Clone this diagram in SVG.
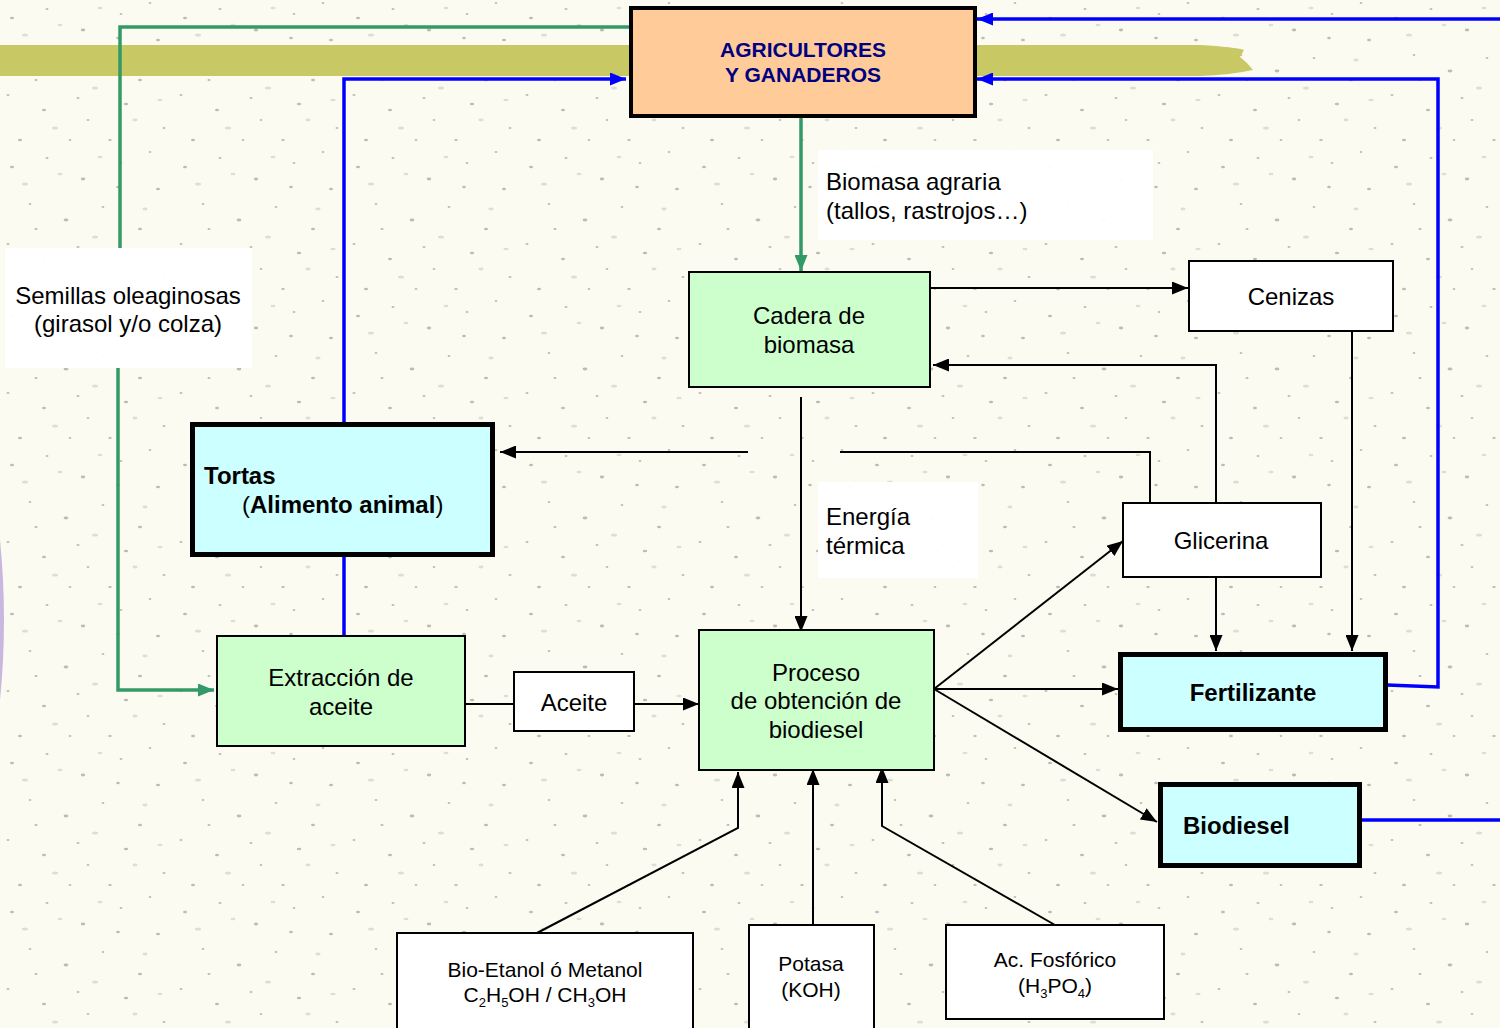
<svg xmlns="http://www.w3.org/2000/svg" width="1500" height="1028" viewBox="0 0 1500 1028">
<defs>
<style>
.t{font-family:"Liberation Sans",Arial,sans-serif;font-size:24px;fill:#000}
.s{font-family:"Liberation Sans",Arial,sans-serif;font-size:21px;fill:#000}
.b{font-weight:bold}
.box{stroke:#000;stroke-width:2}
.thick{stroke:#000;stroke-width:5}
.green{fill:#ccffcc}
.cyan{fill:#ccffff}
.white{fill:#fff}
.ln{fill:none;stroke:#000;stroke-width:2}
.bl{fill:none;stroke:#0000ff;stroke-width:3.5}
.gr{fill:none;stroke:#339966;stroke-width:3.5}
.lbl{fill:#fff;opacity:0.95}
</style>
<pattern id="spk" width="173" height="149" patternUnits="userSpaceOnUse">
<g fill="#6e6e66" opacity="0.45">
<ellipse cx="12" cy="18" rx="2" ry="1.3"/><ellipse cx="47" cy="9" rx="1.5" ry="1"/><ellipse cx="83" cy="30" rx="2.2" ry="1.4"/>
<ellipse cx="121" cy="14" rx="1.4" ry="1"/><ellipse cx="158" cy="40" rx="2" ry="1.2"/><ellipse cx="30" cy="55" rx="1.3" ry="1"/>
<ellipse cx="66" cy="71" rx="2.4" ry="1.4"/><ellipse cx="103" cy="58" rx="1.4" ry="1"/><ellipse cx="140" cy="80" rx="2" ry="1.2"/>
<ellipse cx="8" cy="95" rx="1.5" ry="1.1"/><ellipse cx="44" cy="110" rx="2" ry="1.3"/><ellipse cx="88" cy="120" rx="1.3" ry="1"/>
<ellipse cx="126" cy="104" rx="2.2" ry="1.3"/><ellipse cx="164" cy="128" rx="1.5" ry="1"/><ellipse cx="20" cy="140" rx="2" ry="1.2"/>
<ellipse cx="70" cy="140" rx="1.4" ry="1"/><ellipse cx="110" cy="140" rx="1.8" ry="1.1"/><ellipse cx="150" cy="3" rx="1.3" ry="1"/>
<ellipse cx="36" cy="80" rx="1.6" ry="1.1"/><ellipse cx="118" cy="38" rx="1.8" ry="1.2"/><ellipse cx="78" cy="98" rx="1.5" ry="1"/>
</g>
<g fill="#a8a8a0" opacity="0.35">
<ellipse cx="25" cy="35" rx="3" ry="1.5"/><ellipse cx="95" cy="88" rx="3" ry="1.5"/><ellipse cx="145" cy="60" rx="2.6" ry="1.4"/>
<ellipse cx="55" cy="128" rx="3" ry="1.5"/><ellipse cx="135" cy="120" rx="2.6" ry="1.4"/><ellipse cx="60" cy="25" rx="2.5" ry="1.3"/>
<ellipse cx="160" cy="100" rx="2.6" ry="1.3"/><ellipse cx="100" cy="8" rx="2.5" ry="1.3"/>
</g>
</pattern>
<marker id="ah" viewBox="0 0 16 13" refX="16" refY="6.5" markerWidth="16" markerHeight="13" markerUnits="userSpaceOnUse" orient="auto">
<path d="M0,0 L16,6.5 L0,13 Z" fill="#000"/>
</marker>
<marker id="ahb" viewBox="0 0 16 13" refX="16" refY="6.5" markerWidth="16" markerHeight="13" markerUnits="userSpaceOnUse" orient="auto">
<path d="M0,0 L16,6.5 L0,13 Z" fill="#0000ff"/>
</marker>
<marker id="ahg" viewBox="0 0 16 13" refX="16" refY="6.5" markerWidth="16" markerHeight="13" markerUnits="userSpaceOnUse" orient="auto">
<path d="M0,0 L16,6.5 L0,13 Z" fill="#339966"/>
</marker>
</defs>

<rect width="1500" height="1028" fill="#fcfbf1"/>
<rect width="1500" height="1028" fill="url(#spk)"/>

<path d="M0,45 L1200,45 Q1235,47 1244,50 L1240,57 Q1248,63 1253,70 Q1230,75 1200,76 L0,76 Z" fill="#c8c864"/>
<path d="M0,540 Q8,620 0,700 Z" fill="#c8b8e0"/>

<g id="labels">
<rect class="lbl" x="5" y="248" width="247" height="120"/>
<rect class="lbl" x="818" y="150" width="335" height="90"/>
<rect class="lbl" x="818" y="482" width="160" height="96"/>
</g>

<g id="connectors">
<path class="gr" d="M631,27 L120,27 L120,248"/>
<path class="gr" d="M118,368 L118,690 L214,690" marker-end="url(#ahg)"/>
<path class="gr" d="M801,118 L801,271" marker-end="url(#ahg)"/>
<path class="bl" d="M344,423 L344,79 L626,79" marker-end="url(#ahb)"/>
<path class="bl" d="M344,555 L344,636"/>
<path class="bl" d="M1387,685 L1438,687 L1438,79 L977,79" marker-end="url(#ahb)"/>
<path class="bl" d="M1500,19 L977,19" marker-end="url(#ahb)"/>
<path class="bl" d="M1361,820 L1500,820"/>
<path class="ln" d="M930,288 L1188,288" marker-end="url(#ah)"/>
<path class="ln" d="M1216,503 L1216,365 L933,365" marker-end="url(#ah)"/>
<path class="ln" d="M1352,331 L1352,651" marker-end="url(#ah)"/>
<path class="ln" d="M1216,577 L1216,651" marker-end="url(#ah)"/>
<path class="ln" d="M1150,503 L1150,452 L840,452"/>
<path class="ln" d="M748,452 L500,452" marker-end="url(#ah)"/>
<path class="ln" d="M801,397 L801,632" marker-end="url(#ah)"/>
<path class="ln" d="M465,704 L514,704"/>
<path class="ln" d="M634,704 L699,704" marker-end="url(#ah)"/>
<path class="ln" d="M934,689 L1123,541" marker-end="url(#ah)"/>
<path class="ln" d="M934,689 L1118,689" marker-end="url(#ah)"/>
<path class="ln" d="M934,689 L1157,822" marker-end="url(#ah)"/>
<path class="ln" d="M537,933 L738,828 L738,772" marker-end="url(#ah)"/>
<path class="ln" d="M813,925 L813,769" marker-end="url(#ah)"/>
<path class="ln" d="M1055,925 L882,826 L882,767" marker-end="url(#ah)"/>
</g>

<g id="label-text">
<text class="t" x="128" y="304" text-anchor="middle">Semillas oleaginosas</text>
<text class="t" x="128" y="332" text-anchor="middle">(girasol y/o colza)</text>
<text class="t" x="826" y="190">Biomasa agraria</text>
<text class="t" x="826" y="219">(tallos, rastrojos…)</text>
<text class="t" x="826" y="525">Energía</text>
<text class="t" x="826" y="554">térmica</text>
</g>

<g id="agricultores">
<rect x="631" y="8" width="344" height="108" fill="#ffcc99" stroke="#000" stroke-width="4"/>
<text class="t b" x="803" y="57" text-anchor="middle" style="font-size:21px;fill:#000080">AGRICULTORES</text>
<text class="t b" x="803" y="82" text-anchor="middle" style="font-size:21px;fill:#000080">Y GANADEROS</text>
</g>

<g id="cadera">
<rect class="box green" x="689" y="272" width="241" height="115"/>
<text class="t" x="809" y="324" text-anchor="middle">Cadera de</text>
<text class="t" x="809" y="353" text-anchor="middle">biomasa</text>
</g>

<g id="cenizas">
<rect class="box white" x="1189" y="261" width="204" height="70"/>
<text class="t" x="1291" y="305" text-anchor="middle">Cenizas</text>
</g>

<g id="tortas">
<rect class="thick cyan" x="192.5" y="424.5" width="300" height="130"/>
<text class="t b" x="204" y="484">Tortas</text>
<text class="t" x="242" y="513">(<tspan class="b">Alimento animal</tspan>)</text>
</g>

<g id="glicerina">
<rect class="box white" x="1123" y="503" width="198" height="74"/>
<text class="t" x="1221" y="549" text-anchor="middle">Glicerina</text>
</g>

<g id="extraccion">
<rect class="box green" x="217" y="636" width="248" height="110"/>
<text class="t" x="341" y="686" text-anchor="middle">Extracción de</text>
<text class="t" x="341" y="715" text-anchor="middle">aceite</text>
</g>

<g id="aceite">
<rect class="box white" x="514" y="672" width="120" height="59"/>
<text class="t" x="574" y="711" text-anchor="middle">Aceite</text>
</g>

<g id="proceso">
<rect class="box green" x="699" y="630" width="235" height="140"/>
<text class="t" x="816" y="681" text-anchor="middle">Proceso</text>
<text class="t" x="816" y="709" text-anchor="middle">de obtención de</text>
<text class="t" x="816" y="738" text-anchor="middle">biodiesel</text>
</g>

<g id="fertilizante">
<rect class="thick cyan" x="1120.5" y="654.5" width="265" height="75"/>
<text class="t b" x="1253" y="701" text-anchor="middle">Fertilizante</text>
</g>

<g id="biodiesel">
<rect class="thick cyan" x="1160.5" y="784.5" width="199" height="81"/>
<text class="t b" x="1183" y="834">Biodiesel</text>
</g>

<g id="etanol">
<rect class="box white" x="397" y="933" width="296" height="100"/>
<text class="s" x="545" y="977" text-anchor="middle">Bio-Etanol ó Metanol</text>
<text class="s" x="545" y="1002" text-anchor="middle">C<tspan dy="5" style="font-size:13px">2</tspan><tspan dy="-5">H</tspan><tspan dy="5" style="font-size:13px">5</tspan><tspan dy="-5">OH / CH</tspan><tspan dy="5" style="font-size:13px">3</tspan><tspan dy="-5">OH</tspan></text>
</g>

<g id="potasa">
<rect class="box white" x="749" y="925" width="125" height="108"/>
<text class="s" x="811" y="971" text-anchor="middle">Potasa</text>
<text class="s" x="811" y="997" text-anchor="middle">(KOH)</text>
</g>

<g id="fosforico">
<rect class="box white" x="946" y="925" width="218" height="94"/>
<text class="s" x="1055" y="967" text-anchor="middle">Ac. Fosfórico</text>
<text class="s" x="1055" y="993" text-anchor="middle">(H<tspan dy="5" style="font-size:13px">3</tspan><tspan dy="-5">PO</tspan><tspan dy="5" style="font-size:13px">4</tspan><tspan dy="-5">)</tspan></text>
</g>
</svg>
